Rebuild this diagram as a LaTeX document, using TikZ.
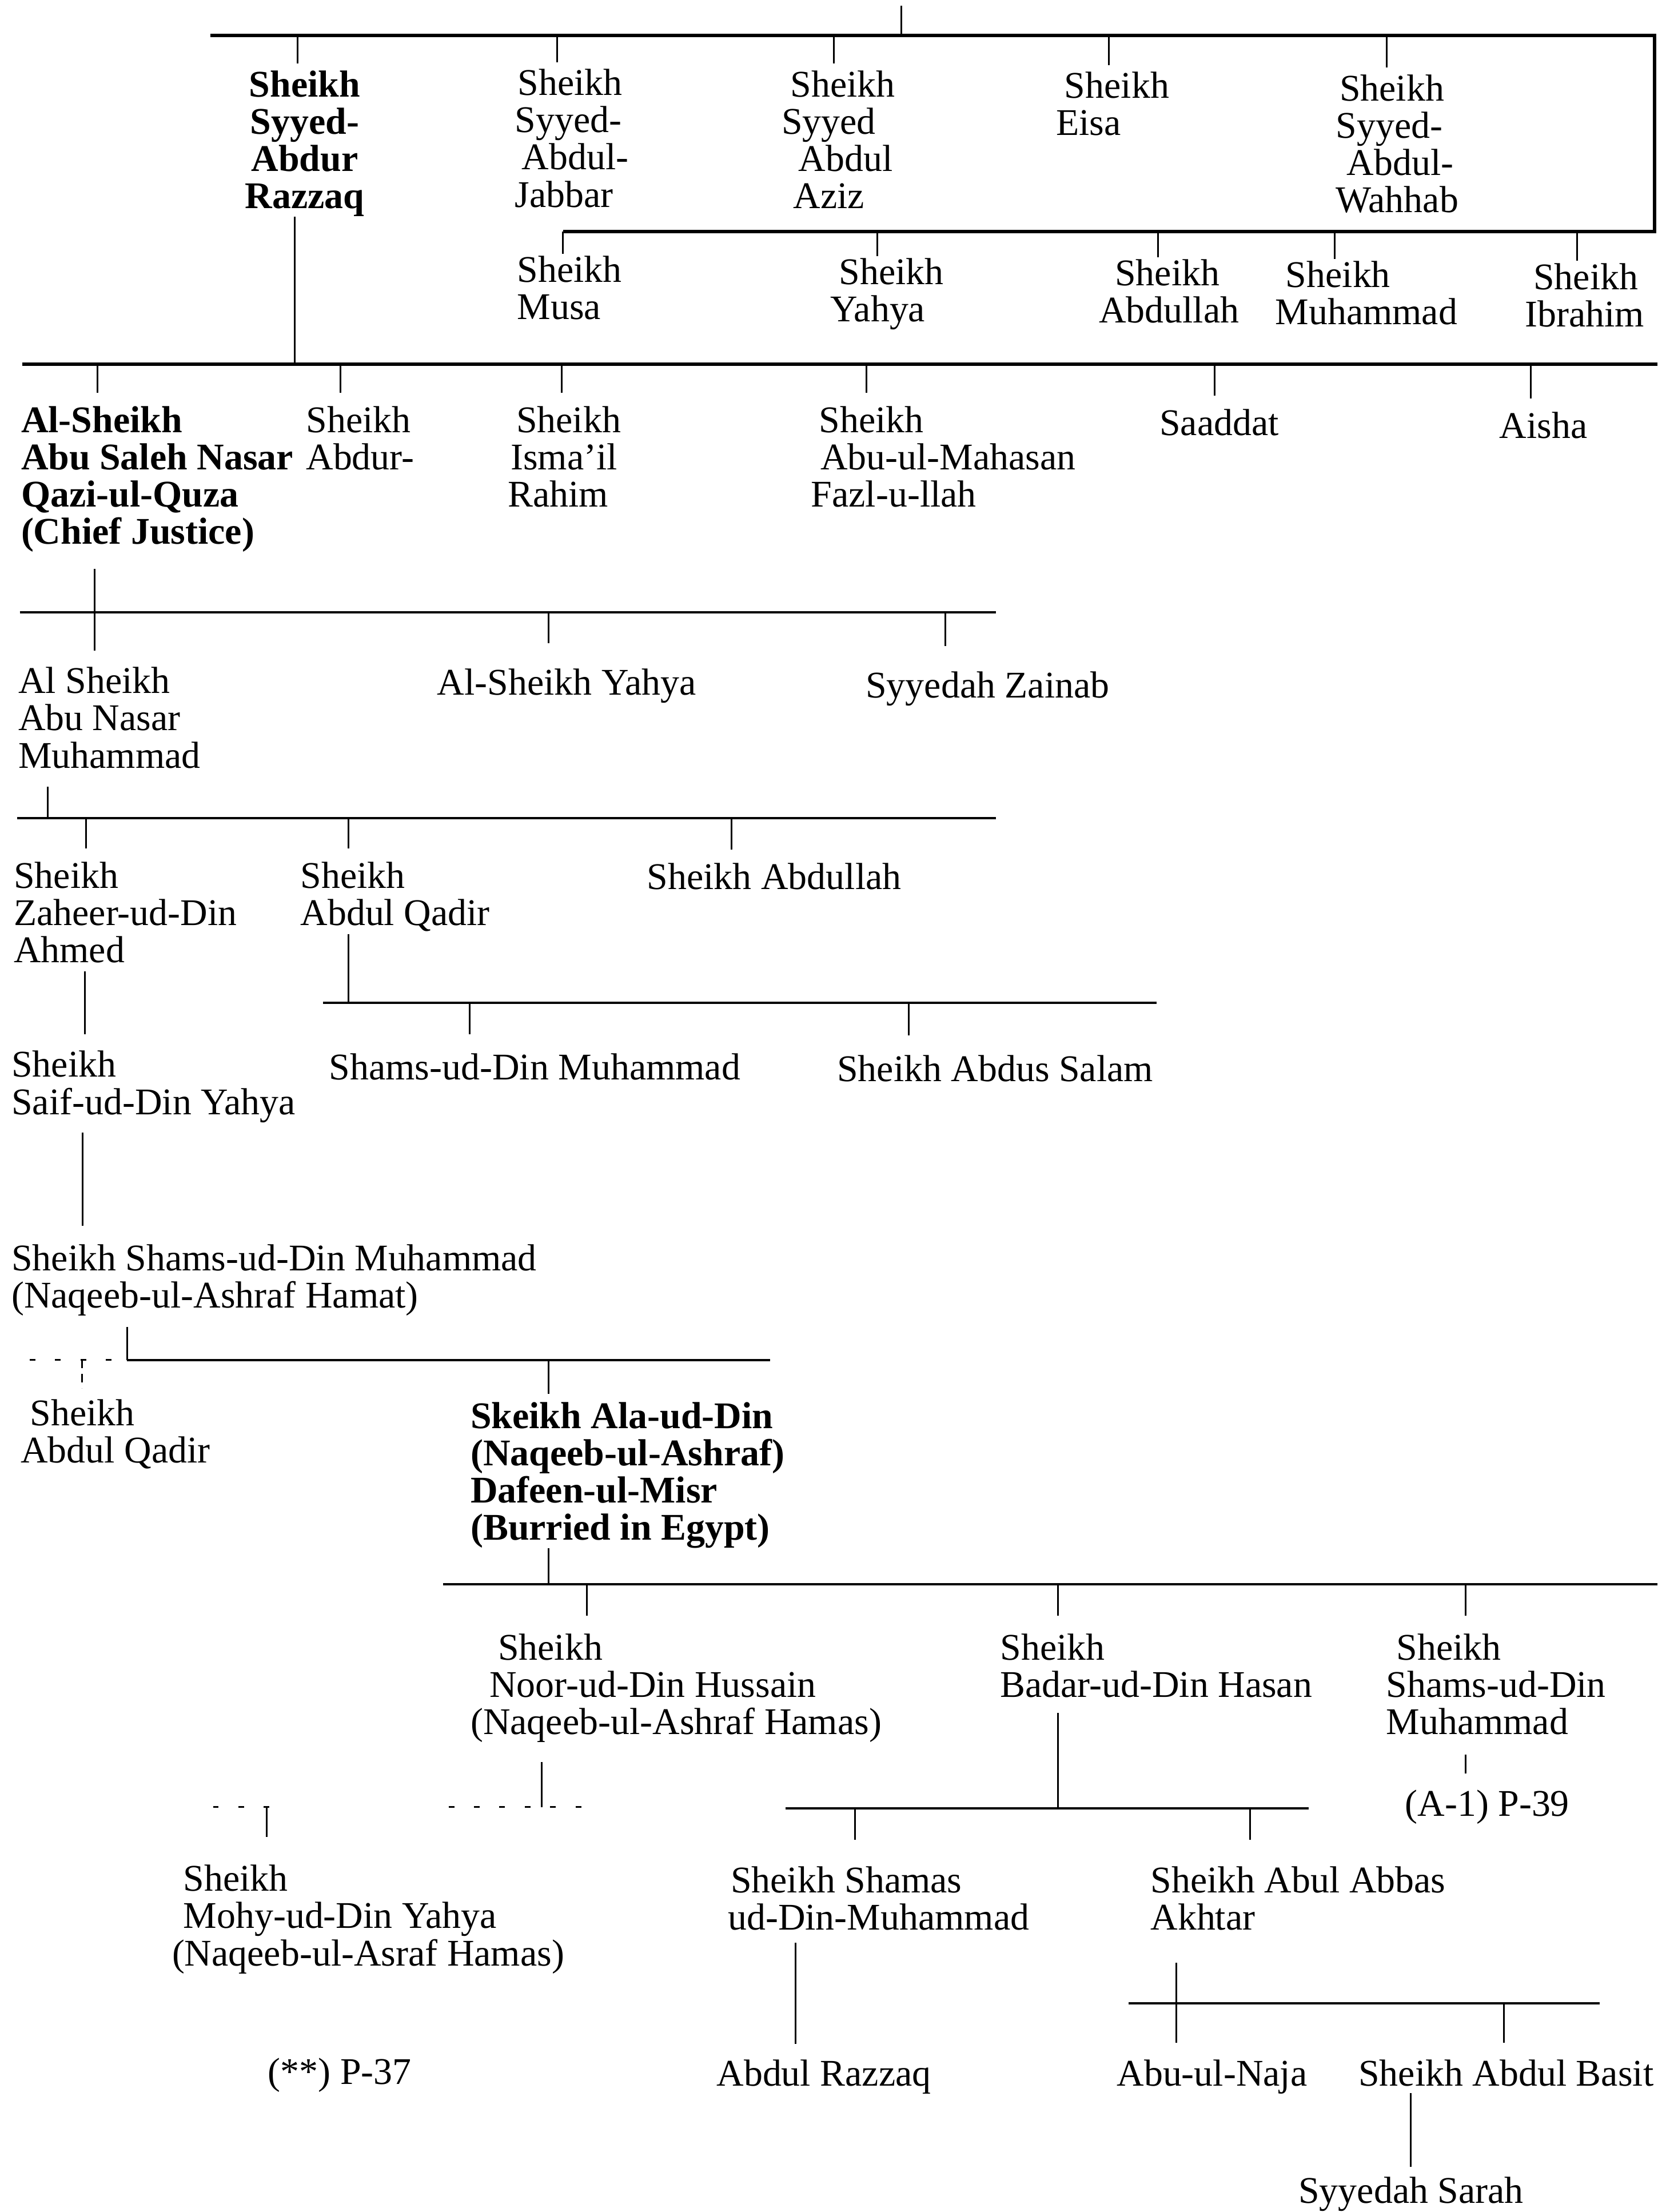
\documentclass[tikz,border=0pt]{standalone}
\usepackage{fontspec}
\setmainfont{Liberation Serif}
\begin{document}
\begin{tikzpicture}[x=0.5pt,y=-0.5pt,
  lbl/.style={anchor=north west,inner sep=0pt,outer sep=0pt,align=left,font=\fontsize{13.35pt}{13.2pt}\selectfont},
  lblb/.style={lbl,font=\fontsize{13.35pt}{13.2pt}\selectfont\bfseries},
  ctrb/.style={anchor=north,inner sep=0pt,outer sep=0pt,align=center,font=\fontsize{13.35pt}{13.2pt}\selectfont\bfseries},
  heavy/.style={line width=1.2pt},
  bus/.style={line width=0.8pt},
  stem/.style={line width=0.6pt},
  faint/.style={line width=0.6pt,dash pattern=on 2pt off 7pt},
  faintdrop/.style={line width=0.6pt,dash pattern=on 3pt off 2pt},
]
\useasboundingbox (0,0) rectangle (1175,1568);

% ---------- nodes ----------
\node[ctrb] (razzaq) at (216,50) {Sheikh\\Syyed-\\Abdur\\Razzaq};
\node[lbl] (jabbar) at (365,49) {\hspace*{1pt}Sheikh\\Syyed-\\\hspace*{2.5pt}Abdul-\\Jabbar};
\node[lbl] (aziz) at (554,50) {\hspace*{3.2pt}Sheikh\\Syyed\\\hspace*{6pt}Abdul\\\hspace*{4.2pt}Aziz};
\node[lbl] (eisa) at (748.6,51) {\hspace*{3pt}Sheikh\\Eisa};
\node[lbl] (wahhab) at (947,53) {\hspace*{1.3pt}Sheikh\\Syyed-\\\hspace*{3.9pt}Abdul-\\Wahhab};

\node[lbl] (musa) at (366.6,181.5) {Sheikh\\Musa};
\node[lbl] (yahyaA) at (588.8,183) {\hspace*{3pt}Sheikh\\Yahya};
\node[lbl] (abdullahA) at (779,184) {\hspace*{5.7pt}Sheikh\\Abdullah};
\node[lbl] (muhammadA) at (904,185) {\hspace*{3.7pt}Sheikh\\Muhammad};
\node[lbl] (ibrahim) at (1081,186.6) {\hspace*{3pt}Sheikh\\Ibrahim};

\node[lblb] (abusaleh) at (15,288) {Al-Sheikh\\Abu Saleh Nasar\\Qazi-ul-Quza\\(Chief Justice)};
\node[lbl] (abdurr) at (217,288) {Sheikh\\Abdur-};
\node[lbl] (ismail) at (360,288) {\hspace*{3pt}Sheikh\\\hspace*{1pt}Isma’il\\Rahim};
\node[lbl] (mahasan) at (575,288) {\hspace*{2.8pt}Sheikh\\\hspace*{3.3pt}Abu-ul-Mahasan\\Fazl-u-llah};
\node[lbl] (saaddat) at (822,290) {Saaddat};
\node[lbl] (aisha) at (1063,292) {Aisha};

\node[lbl] (abunasar) at (13,473) {Al Sheikh\\Abu Nasar\\Muhammad};
\node[lbl] (yahyaB) at (310,474) {Al-Sheikh Yahya};
\node[lbl] (zainab) at (613.7,476) {Syyedah Zainab};

\node[lbl] (zaheer) at (9.8,611) {Sheikh\\Zaheer-ud-Din\\Ahmed};
\node[lbl] (qadirA) at (213,611) {Sheikh\\Abdul Qadir};
\node[lbl] (abdullahB) at (458.7,612) {Sheikh Abdullah};

\node[lbl] (saif) at (8.2,745) {Sheikh\\Saif-ud-Din Yahya};
\node[lbl] (shamsA) at (233.4,747) {Shams-ud-Din Muhammad};
\node[lbl] (salam) at (593.4,748) {Sheikh Abdus Salam};
\node[lbl] (shamsB) at (8.2,882) {Sheikh Shams-ud-Din Muhammad\\(Naqeeb-ul-Ashraf Hamat)};

\node[lbl] (qadirB) at (14.7,992) {\hspace*{3.3pt}Sheikh\\Abdul Qadir};
\node[lblb] (ala) at (333.6,994) {Skeikh Ala-ud-Din\\(Naqeeb-ul-Ashraf)\\Dafeen-ul-Misr\\(Burried in Egypt)};

\node[lbl] (noor) at (333.6,1158) {\hspace*{9.7pt}Sheikh\\\hspace*{6.7pt}Noor-ud-Din Hussain\\(Naqeeb-ul-Ashraf Hamas)};
\node[lbl] (badar) at (709,1158) {Sheikh\\Badar-ud-Din Hasan};
\node[lbl] (shamsC) at (982.6,1158) {\hspace*{3.7pt}Sheikh\\Shams-ud-Din\\Muhammad};
\node[lbl] (aone) at (996,1269) {(A-1) P-39};

\node[lbl] (mohy) at (122,1322) {\hspace*{4pt}Sheikh\\\hspace*{4pt}Mohy-ud-Din Yahya\\(Naqeeb-ul-Asraf Hamas)};
\node[lbl] (pthree) at (190,1459) {(**) P-37};
\node[lbl] (shamas) at (516,1323) {\hspace*{1pt}Sheikh Shamas\\ud-Din-Muhammad};
\node[lbl] (abbas) at (815.6,1323) {Sheikh Abul Abbas\\Akhtar};
\node[lbl] (razzaqB) at (508,1460) {Abdul Razzaq};
\node[lbl] (naja) at (791.7,1460) {Abu-ul-Naja};
\node[lbl] (basit) at (963,1460) {Sheikh Abdul Basit};
\node[lbl] (sarah) at (920.5,1543) {Syyedah Sarah};

% ---------- level 1 ----------
\coordinate (root) at (639,4);
\coordinate (rootJ) at (639,25);
\coordinate (bAl) at (149,25);
\coordinate (bAr) at (1173,25);
\coordinate (bAd) at (1173,164);
\coordinate (bBl) at (399,164);
\draw[stem] (root) -- (rootJ);
\draw[heavy] (bAl) -- (bAr) -- (bAd) -- (bBl);
\foreach \x/\n in {211/razzaq,395/jabbar,591/aziz,786/eisa,983/wahhab}{
  \coordinate (d\n) at (\x,25);
  \draw[stem,shorten >=2.5pt] (d\n) -- (d\n |- \n.north);
}
\foreach \x/\n in {399/musa,622/yahyaA,821/abdullahA,946/muhammadA,1118/ibrahim}{
  \coordinate (d\n) at (\x,164);
  \draw[stem,shorten >=0.8pt] (d\n) -- (d\n |- \n.north);
}

% ---------- level 2 ----------
\coordinate (sRaz) at (209,258);
\draw[stem] (razzaq.south -| sRaz) -- (sRaz);
\coordinate (bCl) at (16,258);
\coordinate (bCr) at (1175,258);
\draw[heavy] (bCl) -- (bCr);
\foreach \x/\n in {69/abusaleh,241.5/abdurr,398/ismail,614/mahasan,861/saaddat,1085/aisha}{
  \coordinate (d\n) at (\x,258);
  \draw[stem,shorten >=4.8pt] (d\n) -- (d\n |- \n.north);
}

% ---------- level 3 ----------
\coordinate (sSal) at (67,434);
\draw[stem,shorten <=6pt,shorten >=6pt] (abusaleh.south -| sSal) -- (abunasar.north -| sSal);
\coordinate (bDl) at (14,434);
\coordinate (bDr) at (706,434);
\draw[bus] (bDl) -- (bDr);
\foreach \x/\n in {389/yahyaB,670/zainab}{
  \coordinate (d\n) at (\x,434);
  \draw[stem,shorten >=9pt] (d\n) -- (d\n |- \n.north);
}

% ---------- level 4 ----------
\coordinate (sNas) at (34,580);
\draw[stem,shorten <=6.5pt] (abunasar.south -| sNas) -- (sNas);
\coordinate (bEl) at (12,580);
\coordinate (bEr) at (706,580);
\draw[bus] (bEl) -- (bEr);
\foreach \x/\n in {61/zaheer,247/qadirA,518.5/abdullahB}{
  \coordinate (d\n) at (\x,580);
  \draw[stem,shorten >=4.8pt] (d\n) -- (d\n |- \n.north);
}

% ---------- level 5 ----------
\coordinate (sQad) at (247,711);
\draw[stem,shorten <=1pt] (qadirA.south -| sQad) -- (sQad);
\coordinate (bFl) at (229,711);
\coordinate (bFr) at (820,711);
\draw[bus] (bFl) -- (bFr);
\foreach \x/\n in {333/shamsA,644/salam}{
  \coordinate (d\n) at (\x,711);
  \draw[stem,shorten >=7pt] (d\n) -- (d\n |- \n.north);
}
\coordinate (sZah) at (60,700);
\draw[stem,shorten <=3pt,shorten >=6pt] (zaheer.south -| sZah) -- (saif.north -| sZah);
\coordinate (sSaif) at (58.6,840);
\draw[stem,shorten <=3.5pt,shorten >=6.5pt] (saif.south -| sSaif) -- (shamsB.north -| sSaif);

% ---------- level 6 ----------
\coordinate (sShB) at (90,964);
\draw[stem,shorten <=4pt] (shamsB.south -| sShB) -- (sShB);
\coordinate (bGl) at (21,964);
\coordinate (bGr) at (546,964);
\draw[faint] (bGl) -- (sShB);
\draw[bus] (sShB) -- (bGr);
\coordinate (dqadirB) at (58,964);
\draw[faintdrop,shorten >=4pt] (dqadirB) -- (dqadirB |- qadirB.north);
\coordinate (dala) at (389,964);
\draw[stem,shorten >=3pt] (dala) -- (dala |- ala.north);

% ---------- level 7 ----------
\coordinate (sAla) at (389,1123);
\draw[stem] (ala.south -| sAla) -- (sAla);
\coordinate (bHl) at (314,1123);
\coordinate (bHr) at (1175,1123);
\draw[bus] (bHl) -- (bHr);
\foreach \x/\n in {416/noor,750/badar,1039/shamsC}{
  \coordinate (d\n) at (\x,1123);
  \draw[stem,shorten >=6.3pt] (d\n) -- (d\n |- \n.north);
}
\coordinate (sShC) at (1039,1250);
\draw[stem,shorten <=7pt,shorten >=6pt] (shamsC.south -| sShC) -- (aone.north -| sShC);

% ---------- level 8 ----------
\coordinate (sNoor) at (384,1281);
\draw[stem,shorten <=7pt] (noor.south -| sNoor) -- (sNoor);
\coordinate (bIl) at (151,1281);
\coordinate (bIm) at (195,1281);
\coordinate (bIn) at (318,1281);
\coordinate (bIr) at (423,1281);
\draw[faint] (bIl) -- (bIm);
\draw[faint] (bIn) -- (bIr);
\coordinate (dmohy) at (189,1281);
\draw[stem,shorten >=10pt] (dmohy) -- (dmohy |- mohy.north);

\coordinate (sBad) at (750,1282);
\draw[stem,shorten <=5.5pt] (badar.south -| sBad) -- (sBad);
\coordinate (bJl) at (557,1282);
\coordinate (bJr) at (927.5,1282);
\draw[bus] (bJl) -- (bJr);
\foreach \x/\n in {606/shamas,886/abbas}{
  \coordinate (d\n) at (\x,1282);
  \draw[stem,shorten >=9.5pt] (d\n) -- (d\n |- \n.north);
}

% ---------- level 9 ----------
\coordinate (sSham) at (564,1400);
\draw[stem,shorten <=4.5pt,shorten >=5.5pt] (shamas.south -| sSham) -- (razzaqB.north -| sSham);
\coordinate (sAbb) at (834,1420);
\draw[stem,shorten <=11.5pt,shorten >=6pt] (abbas.south -| sAbb) -- (naja.north -| sAbb);
\coordinate (bKl) at (800,1420);
\coordinate (bKr) at (1134,1420);
\draw[bus] (bKl) -- (bKr);
\coordinate (dbasit) at (1066,1420);
\draw[stem,shorten >=6pt] (dbasit) -- (dbasit |- basit.north);
\coordinate (sBas) at (1000,1500);
\draw[stem,shorten <=2.5pt,shorten >=3.5pt] (basit.south -| sBas) -- (sarah.north -| sBas);
\end{tikzpicture}
\end{document}
